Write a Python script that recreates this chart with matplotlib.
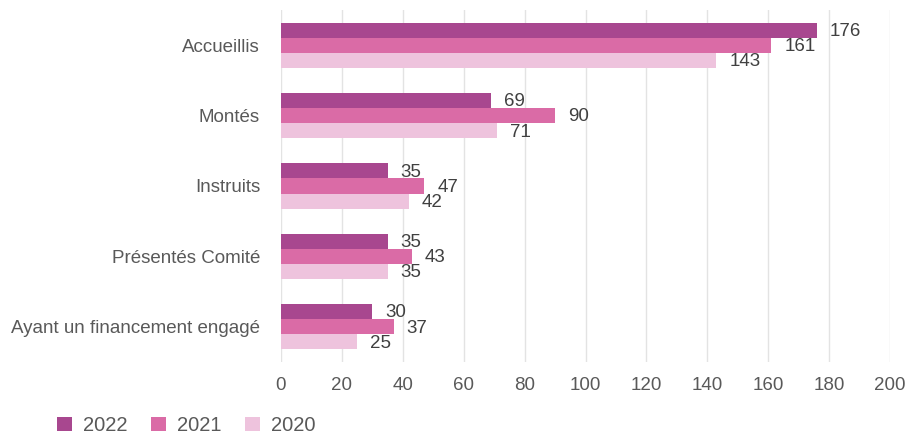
import matplotlib
matplotlib.use("Agg")
import matplotlib.pyplot as plt
import numpy as np
from matplotlib.patches import Patch

plt.rcParams['font.family'] = ['Liberation Sans', 'DejaVu Sans']

categories = ["Accueillis", "Montés", "Instruits", "Présentés Comité", "Ayant un financement engagé"]
years = ["2022", "2021", "2020"]
v2022 = [176, 69, 35, 35, 30]
v2021 = [161, 90, 47, 43, 37]
v2020 = [143, 71, 42, 35, 25]
colors = ["#A8478F", "#DA6BA6", "#EEC3DD"]

fig = plt.figure(figsize=(9.12, 4.36), dpi=100)
ax = fig.add_axes([0.308, 0.170, 0.668, 0.807])

y = np.arange(len(categories))
h = 0.215
series = [v2022, v2021, v2020]
for i, (vals, c) in enumerate(zip(series, colors)):
    pos = y + (i - 1) * h
    ax.barh(pos, vals, height=h, color=c, zorder=3)
    for p, v in zip(pos, vals):
        ax.text(v + 4.3, p + 0.02, str(v), va='center', ha='left', fontsize=13.5,
                color='#404040', zorder=4)

ax.set_ylim(len(categories) - 0.5, -0.5)
ax.set_xlim(0, 200)
ax.set_xticks(np.arange(0, 201, 20))
ax.set_yticks(y)
ax.set_yticklabels(categories)
ax.tick_params(axis='both', length=0, labelsize=13.5, colors='#595959')
ax.tick_params(axis='y', pad=15)
ax.tick_params(axis='x', pad=11)
ax.grid(axis='x', color='#E3E3E3', linewidth=1, zorder=0)
for s in ax.spines.values():
    s.set_visible(False)

handles = [Patch(facecolor=c, edgecolor='none') for c in colors]
leg = fig.legend(handles, years, loc='lower left', bbox_to_anchor=(56 / 912, 0.0), ncol=3,
                 frameon=False, fontsize=14.5, handlelength=0.75, handleheight=0.75,
                 columnspacing=1.15, handletextpad=0.55, borderpad=0.05, borderaxespad=0)
for t in leg.get_texts():
    t.set_color('#595959')

fig.savefig("out.png", dpi=100)
